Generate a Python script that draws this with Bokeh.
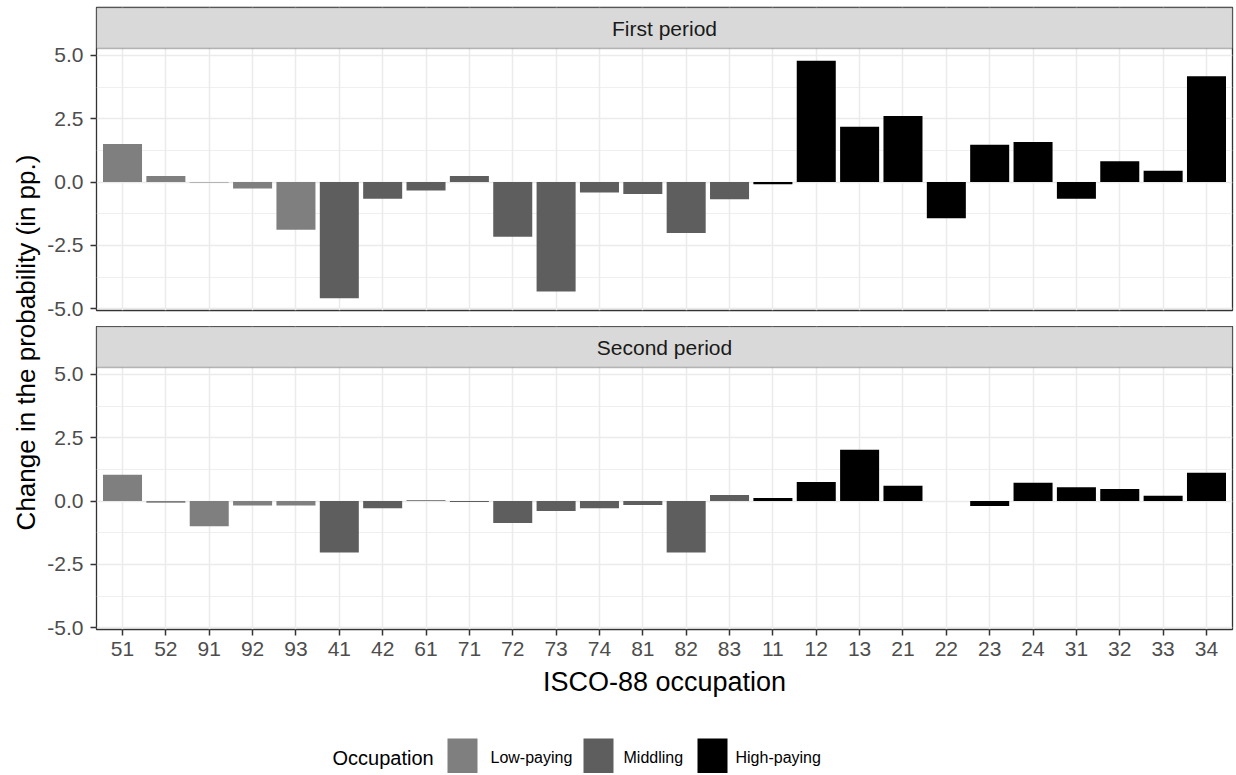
import numpy as np
from bokeh.core.properties import value
from bokeh.embed import file_html
from bokeh.layouts import column, row
from bokeh.models import (BoxAnnotation, ColumnDataSource, FactorRange, FixedTicker,
                          Label, PrintfTickFormatter, Range1d)
from bokeh.plotting import figure
from bokeh.resources import INLINE

# ISCO-88 occupations, in the order of the x axis
occupations = ["51", "52", "91", "92", "93",
               "41", "42", "61", "71", "72", "73", "74", "81", "82", "83",
               "11", "12", "13", "21", "22", "23", "24", "31", "32", "33", "34"]
occ_group = (["Low-paying"] * 5 + ["Middling"] * 10 + ["High-paying"] * 11)

group_names = ["Low-paying", "Middling", "High-paying"]
group_colors = ["#7f7f7f", "#5e5e5e", "#000000"]

# change in the probability, in percentage points
first_period = [1.50, 0.24, -0.02, -0.26, -1.88,
                -4.59, -0.66, -0.33, 0.24, -2.16, -4.32, -0.41, -0.47, -2.01, -0.68,
                -0.09, 4.79, 2.18, 2.61, -1.43, 1.47, 1.58, -0.66, 0.82, 0.45, 4.17]
second_period = [1.04, -0.07, -1.00, -0.18, -0.18,
                 -2.03, -0.28, 0.03, -0.04, -0.87, -0.39, -0.28, -0.16, -2.03, 0.24,
                 0.12, 0.75, 2.02, 0.60, 0.00, -0.20, 0.72, 0.54, 0.47, 0.21, 1.12]

period_names = ["First period", "Second period"]
y_ticks = [-5, -2.5, 0, 2.5, 5]
y_minor = [-3.75, -1.25, 1.25, 3.75]

FONT = "Liberation Sans"
Y_LO, Y_HI = -5.07, 5.27
PANEL_PX, STRIP_PX = 262, 41
FRAME_W = 1136
LEFT = 51
TOP_PAD = 7
GAP = 16
BOTTOM = 80
y_top = Y_HI + STRIP_PX * (Y_HI - Y_LO) / PANEL_PX


def facet(title, values, first):
    colors = [group_colors[group_names.index(g)] for g in occ_group]
    src = ColumnDataSource(dict(occ=occupations, val=values, color=colors))
    p = figure(x_range=FactorRange(factors=occupations, range_padding=0.1,
                                   range_padding_units="absolute"),
               y_range=Range1d(Y_LO, y_top),
               frame_width=FRAME_W, frame_height=PANEL_PX + STRIP_PX,
               min_border_left=LEFT, min_border_right=3,
               min_border_top=TOP_PAD if first else 0,
               min_border_bottom=GAP if first else BOTTOM,
               output_backend="svg", toolbar_location=None, tools="")
    p.vbar(x="occ", top="val", bottom=0, width=0.9, fill_color="color",
           line_color=None, source=src)

    p.background_fill_color = "white"
    p.border_fill_color = "white"
    p.outline_line_color = "#333333"
    p.outline_line_width = 1.3

    p.xgrid.grid_line_color = "#ebebeb"
    p.xgrid.grid_line_width = 1.5
    p.ygrid.grid_line_color = "#ebebeb"
    p.ygrid.grid_line_width = 1.5
    p.ygrid.minor_grid_line_color = "#ebebeb"
    p.ygrid.minor_grid_line_width = 0.8

    ax = p.yaxis[0]
    ax.ticker = FixedTicker(ticks=y_ticks, minor_ticks=y_minor)
    ax.formatter = PrintfTickFormatter(format="%.1f")
    ax.axis_line_color = None
    ax.minor_tick_line_color = None
    ax.major_tick_in = 0
    ax.major_tick_out = 6
    ax.major_tick_line_color = "#333333"
    ax.major_tick_line_width = 1.5
    ax.major_label_standoff = 7
    ax.major_label_text_font = FONT
    ax.major_label_text_font_size = "21px"
    ax.major_label_text_color = "#4d4d4d"

    xa = p.xaxis[0]
    if not first:
        xa.axis_line_color = None
        xa.major_tick_in = 0
        xa.major_tick_out = 6
        xa.major_tick_line_color = "#333333"
        xa.major_tick_line_width = 1.5
        xa.major_label_standoff = 6
        xa.major_label_text_font = FONT
        xa.major_label_text_font_size = "21px"
        xa.major_label_text_color = "#4d4d4d"
        xa.axis_label = "ISCO-88 occupation"
        xa.axis_label_standoff = 8
        xa.axis_label_text_font = FONT
        xa.axis_label_text_font_size = "27px"
        xa.axis_label_text_font_style = "normal"
        xa.axis_label_text_color = "black"
    else:
        xa.visible = False

    # facet strip
    p.add_layout(BoxAnnotation(bottom=Y_HI, top=y_top, fill_color="#d9d9d9", fill_alpha=1,
                               line_color="#333333", line_width=1.3))
    p.add_layout(Label(x=len(occupations) / 2, y=(Y_HI + y_top) / 2, text=title,
                       text_font=FONT, text_font_size="21px", text_color="#1a1a1a",
                       text_align="center", text_baseline="middle"))
    return p


p1 = facet(period_names[0], first_period, True)
p2 = facet(period_names[1], second_period, False)

H = (TOP_PAD + PANEL_PX + STRIP_PX + GAP) + (PANEL_PX + STRIP_PX + BOTTOM)
YL_W = 44
ylab = figure(width=YL_W, height=H, x_range=Range1d(0, YL_W), y_range=Range1d(0, H),
              x_axis_location=None, y_axis_location=None, min_border=0,
              output_backend="svg", toolbar_location=None, tools="")
ylab.grid.visible = False
ylab.outline_line_color = None
ylab.text(x=[25], y=[H - 342], text=["Change in the probability (in pp.)"],
          angle=np.pi / 2, text_font=value(FONT), text_font_size="26px",
          text_align="center", text_baseline="middle", text_color="black")

# legend
LW, LH = YL_W + LEFT + FRAME_W + 3, 64
leg = figure(width=LW, height=LH, x_range=Range1d(0, LW), y_range=Range1d(0, LH),
             x_axis_location=None, y_axis_location=None, min_border=0,
             output_backend="svg", toolbar_location=None, tools="")
leg.grid.visible = False
leg.outline_line_color = None
key_left = [447, 583, 697]
label_left = [490, 623, 735]
key_w = 30
text_y = 16
leg.quad(left=key_left, right=[k + key_w for k in key_left],
         bottom=0, top=35, fill_color=group_colors, line_color=None)
leg.text(x=label_left, y=[text_y] * 3, text=group_names, text_font=value(FONT),
         text_font_size="16px", text_align="left", text_baseline="middle",
         text_color="black")
leg.text(x=[332], y=[text_y], text=["Occupation"], text_font=value(FONT),
         text_font_size="20px", text_align="left", text_baseline="middle",
         text_color="black")

layout = column(row(ylab, column(p1, p2)), leg)

open("out.html", "w").write(file_html(layout, INLINE))
